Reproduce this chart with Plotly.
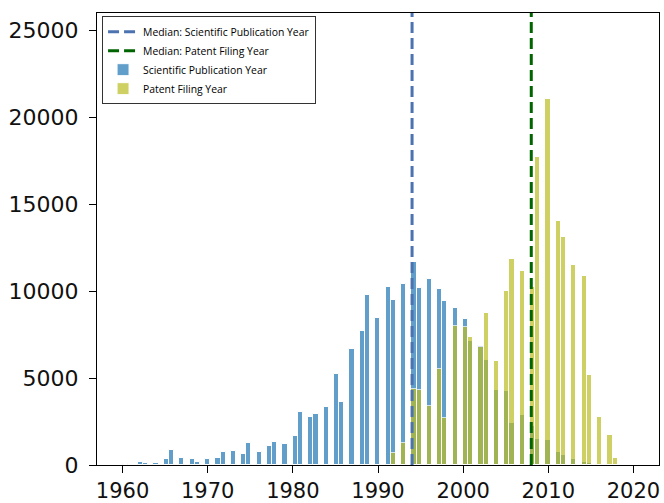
import plotly.graph_objects as go

# ---- data ----
sci_years = list(range(1960, 2019))
sci_counts = [80, 0, 180, 90, 120, 330, 850, 430, 370, 180,
              350, 390, 740, 830, 620, 1280, 740, 1100, 1350, 1220,
              1640, 3060, 2770, 2920, 3340, 5260, 3640, 6700, 7720, 9770,
              8440, 10260, 9490, 10400, 11660, 10200, 10690, 10140, 9430, 9020,
              8390, 7140, 6860, 6030, 4340, 4250, 2430, 2900, 2250, 1500,
              1410, 740, 600, 320, 180, 100, 60, 20, 10]

pat_years = list(range(1992, 2019))
pat_counts = [700, 1280, 4400, 4340, 3370, 5500, 2710, 7990, 7920, 7370,
              6800, 8730, 6010, 10000, 11860, 11150, 10250, 17710, 21030, 14010,
              13110, 11500, 10900, 5190, 2770, 1700, 390]

sci_median = 1994
pat_median = 2008

x_ticks = [1960, 1970, 1980, 1990, 2000, 2010, 2020]
y_ticks = [0, 5000, 10000, 15000, 20000, 25000]

BIN_START = 1960
BIN_SIZE = 0.6057
Y_MAX = 26000

fig = go.Figure()

fig.add_trace(go.Histogram(
    x=sci_years, y=sci_counts, histfunc="sum",
    xbins=dict(start=BIN_START, end=2021, size=BIN_SIZE),
    marker=dict(color="#1f77b4", line=dict(color="white", width=1)),
    opacity=0.7, name="Scientific Publication Year", legendrank=3,
))
fig.add_trace(go.Histogram(
    x=pat_years, y=pat_counts, histfunc="sum",
    xbins=dict(start=BIN_START, end=2021, size=BIN_SIZE),
    marker=dict(color="#bcbd22", line=dict(color="white", width=1)),
    opacity=0.7, name="Patent Filing Year", legendrank=4,
))
fig.add_trace(go.Scatter(
    x=[sci_median, sci_median], y=[0, Y_MAX], mode="lines",
    line=dict(color="#4C72B0", width=3, dash="11px,5px"),
    name="Median: Scientific Publication Year", legendrank=1,
))
fig.add_trace(go.Scatter(
    x=[pat_median, pat_median], y=[0, Y_MAX], mode="lines",
    line=dict(color="#006400", width=3, dash="11px,5px"),
    name="Median: Patent Filing Year", legendrank=2,
))

axis_common = dict(
    showline=True, linecolor="black", linewidth=1.3, mirror=True,
    ticks="outside", ticklen=7, tickwidth=1.3, tickcolor="black",
    showgrid=False, zeroline=False, automargin=False,
)

fig.update_layout(
    width=664, height=503,
    margin=dict(l=97, r=5, t=13, b=38),
    paper_bgcolor="white", plot_bgcolor="white",
    barmode="overlay", bargap=0,
    xaxis=dict(range=[1957, 2023], tickvals=x_ticks, ticklabelstandoff=0,
               tickfont=dict(family="DejaVu Sans", size=21, color="#111111"), **axis_common),
    yaxis=dict(range=[0, Y_MAX], tickvals=y_ticks, tickformat="d", ticklabelstandoff=6,
               tickfont=dict(family="DejaVu Sans", size=22, color="#111111"), **axis_common),
    legend=dict(
        x=0.009, y=0.993, xanchor="left", yanchor="top",
        bgcolor="white", bordercolor="#333333", borderwidth=1,
        font=dict(family="Open Sans", size=10.4, color="black"),
        traceorder="normal", itemwidth=30,
    ),
    showlegend=True,
)

fig.write_html("out.html", config={"displayModeBar": False},
               post_script="document.body.style.margin='0';document.body.style.overflow='hidden';")
